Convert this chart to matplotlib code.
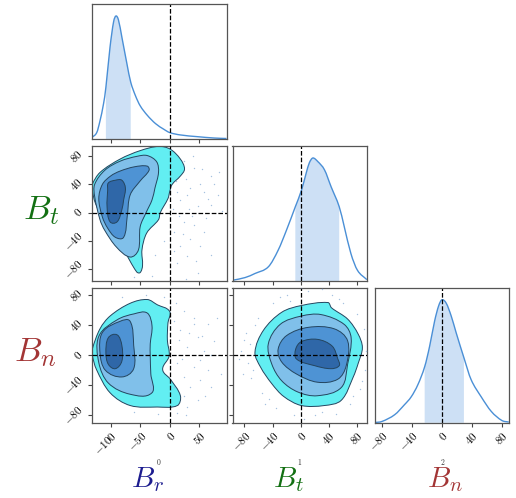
import matplotlib
matplotlib.use("Agg")
import matplotlib.pyplot as plt
import numpy as np
from matplotlib.path import Path
from matplotlib.patches import PathPatch

plt.rcParams["mathtext.fontset"] = "cm"
plt.rcParams["font.family"] = "serif"

# variable names / ranges
NAMES = ["$B_r$", "$B_t$", "$B_n$"]
NAME_COLORS = ["#1c1c8f", "#137013", "#a33535"]
LIMITS = [(-132, 96), (-97, 95), (-90, 90)]
TICKS = [[-100, -50, 0, 50], [-80, -40, 0, 40, 80], [-80, -40, 0, 40, 80]]
TRUTHS = [0, 0, 0]

# 1D marginals (peak normalised to 1)
BR_X = [-132, -123.5, -118, -112, -108, -101, -95, -91, -86.7, -81, -72.4, -66,
        -58, -50, -38, -24, -10, 0, 18, 46.6, 75, 96]
BR_D = [0.011, 0.052, 0.147, 0.286, 0.42, 0.747, 0.952, 1.0, 0.967, 0.829, 0.611,
        0.462, 0.352, 0.27, 0.193, 0.125, 0.079, 0.052, 0.033, 0.019, 0.008, 0.004]
BT_X = [-97, -79, -65, -46, -32, -20, -7.5, 1.4, 8, 12.3, 17.4, 24.5, 34, 43.4,
        55, 62.2, 71.6, 81, 94.3]
BT_D = [0.006, 0.028, 0.061, 0.115, 0.25, 0.415, 0.604, 0.741, 0.878, 0.959, 1.0,
        0.971, 0.904, 0.767, 0.604, 0.441, 0.224, 0.087, 0.011]
BN_X = [-90, -80, -63, -50, -41, -32, -23, -16.4, -9.7, -4.4, 0, 5.8, 12.5, 19,
        29.4, 39, 52.5, 66, 80, 89.3]
BN_D = [0.002, 0.011, 0.066, 0.147, 0.211, 0.311, 0.456, 0.622, 0.828, 0.95, 1.0,
        0.972, 0.867, 0.733, 0.529, 0.351, 0.211, 0.092, 0.019, 0.006]
BANDS = [(-108, -66), (-7.5, 55), (-23, 29.4)]

# 2D contour outlines, outer -> inner (Br-Bt, Br-Bn, Bt-Bn)
RT_LEVELS = [
    [(-131, 40), (-118, 57), (-84, 76), (-50, 88), (-19, 94), (1, 90), (18, 76),
     (25, 62), (18, 52), (4, 40), (0, 30), (-3, 20), (-16, 0), (-19, -10),
     (-39, -29), (-47, -53), (-46, -75), (-50, -85), (-56, -84), (-78, -53),
     (-106, -20), (-126, 14), (-131, 32)],
    [(-127, 40), (-110, 60), (-84, 73), (-55, 80), (-38, 81), (-22, 72), (-19, 57),
     (-25, 35), (-30, 18), (-40, 0), (-50, -20), (-53, -53), (-67, -63),
     (-90, -49), (-110, -25), (-118, -10), (-127, 23)],
    [(-114, 40), (-100, 52), (-84, 59), (-60, 65), (-38, 66), (-35, 60), (-50, 45),
     (-67, 25), (-72, -6), (-78, -35), (-92, -35), (-105, -22), (-114, -6),
     (-120, 20)],
    [(-104, 42), (-92, 46), (-81, 46), (-75, 35), (-78, 18), (-81, 4), (-89, -13),
     (-101, -13), (-106, 8), (-105, 32)],
]
RN_LEVELS = [
    [(-131, 8), (-118, 35), (-101, 52), (-67, 69), (-38, 74), (-21, 67), (0, 58),
     (-3, 43), (-4, 20), (-1, -1), (-12, -19), (1, -32), (18, -54), (13, -67),
     (-21, -69), (-67, -67), (-101, -50), (-124, -19), (-131, 0)],
    [(-120, 25), (-89, 47), (-60, 55), (-38, 56), (-30, 39), (-33, 15), (-33, -1),
     (-32, -25), (-30, -50), (-67, -52), (-104, -37), (-120, -10)],
    [(-114, 30), (-84, 45), (-67, 45), (-61, 13), (-61, -18), (-81, -29),
     (-109, -20), (-118, 3)],
    [(-104, 23), (-89, 27), (-81, 13), (-81, -8), (-92, -18), (-104, -12),
     (-108, 3)],
]
TN_LEVELS = [
    [(-65, 4), (-53, 33), (-27, 57), (1, 66), (39, 70), (44, 63), (67, 48), (82, 28),
     (88, 10), (82, -11), (75, -29), (58, -60), (34, -67), (1, -67), (-24, -55),
     (-41, -38), (-57, -16)],
    [(-46, 15), (-29, 41), (1, 52), (29, 54), (62, 41), (72, 23), (67, -12),
     (58, -43), (24, -54), (-4, -49), (-27, -34), (-41, -12)],
    [(-32, 8), (-20, 26), (11, 37), (48, 35), (67, 19), (65, -14), (53, -32),
     (24, -36), (-6, -25), (-27, -9)],
    [(-7, 8), (1, 18), (24, 21), (45, 12), (53, -5), (55, -14), (43, -18),
     (20, -14), (-6, -5)],
]

# stray samples outside the contours
RT_PTS = [(24, 73), (41, 64), (69, 52), (83, 57), (52, 40), (30, 25), (18, 18),
          (47, 9), (69, 11), (24, -13), (41, -18), (58, -27), (35, -37), (18, -47),
          (52, -47), (30, -61), (13, -71), (47, -85), (7, -27), (35, 35), (10, 45),
          (58, 30), (89, 2), (81, 25), (27, -94), (62, -8), (5, 5), (-10, -40),
          (-25, -60), (-30, -90), (-60, -92), (40, 80), (70, -60), (15, -5),
          (28, 48), (55, 62), (12, 30), (38, -5), (22, -30), (45, -68), (8, -55),
          (65, 20), (75, 40), (33, 5)]
RN_PTS = [(24, 59), (41, 50), (64, 41), (18, 33), (47, 24), (75, 19), (30, 11),
          (58, 6), (13, -11), (41, -16), (64, -20), (86, -25), (24, -29), (52, -33),
          (35, -42), (69, -42), (24, -55), (47, -60), (30, -69), (13, -77), (41, 41),
          (7, 46), (52, -7), (-40, 80), (-80, 78), (-10, 78), (-20, -78), (-60, -76),
          (10, 70), (80, 50), (15, 20), (33, 30), (20, -5), (60, -55), (8, -42),
          (28, -80), (55, 25), (70, 0)]
TN_PTS = [(-80, 20), (-75, -10), (-70, -30), (-85, 5), (-60, 50), (-40, 70),
          (-20, 80), (10, 85), (30, 88), (60, 70), (80, 55), (90, 35), (92, -20),
          (85, -45), (70, -65), (50, -78), (20, -80), (-10, -80), (-35, -70),
          (-55, -50), (-65, 40), (0, 90), (45, 80), (-50, -65), (75, -55), (-88, -5),
          (-72, 15), (93, 5), (-30, 78), (5, -85), (-78, 30), (-68, -20), (-15, 72),
          (55, 75), (88, -35), (30, -75), (-45, -58), (-82, -25)]

FILL_COLORS = ["#62eef2", "#80c0ea", "#4e93d4", "#2f67a8"]
EDGE = "#24455f"
LINE = "#4a8fd6"
BAND = "#cde0f5"


def closed_spline(pts):
    """Smooth closed outline passing through every point."""
    v = np.asarray(pts, float)
    n = len(v)
    tang = []
    for i in range(n):
        t = v[(i + 1) % n] - v[i - 1]
        tang.append(t / np.hypot(*t))
    verts, codes = [v[0]], [Path.MOVETO]
    for i in range(n):
        p1, p2 = v[i], v[(i + 1) % n]
        L = np.hypot(*(p2 - p1)) / 3
        verts += [p1 + tang[i] * L, p2 - tang[(i + 1) % n] * L, p2]
        codes += [Path.CURVE4] * 3
    verts.append(v[0])
    codes.append(Path.CLOSEPOLY)
    return Path(verts, codes)


def curve_segments(x, d):
    """Cubic Hermite (Bezier form) pieces through the density points."""
    n = len(x)
    m = np.zeros(n)
    for i in range(n):
        a, b = max(i - 1, 0), min(i + 1, n - 1)
        m[i] = (d[b] - d[a]) / (x[b] - x[a])
    segs = []
    for i in range(n - 1):
        h = x[i + 1] - x[i]
        segs.append([(x[i] + h / 3, d[i] + m[i] * h / 3),
                     (x[i + 1] - h / 3, d[i + 1] - m[i + 1] * h / 3),
                     (x[i + 1], d[i + 1])])
    return segs


def draw_1d(ax, x, d, band, truth):
    x = np.asarray(x, float)
    d = np.asarray(d, float)
    segs = curve_segments(x, d)
    i0 = int(np.where(x == band[0])[0][0])
    i1 = int(np.where(x == band[1])[0][0])
    bv = [(x[i0], 0), (x[i0], d[i0])]
    bc = [Path.MOVETO, Path.LINETO]
    for s in segs[i0:i1]:
        bv += s
        bc += [Path.CURVE4] * 3
    bv += [(x[i1], 0), (x[i0], 0)]
    bc += [Path.LINETO, Path.CLOSEPOLY]
    ax.add_patch(PathPatch(Path(bv, bc), facecolor=BAND, lw=0))
    lv = [(x[0], d[0])]
    lc = [Path.MOVETO]
    for s in segs:
        lv += s
        lc += [Path.CURVE4] * 3
    ax.add_patch(PathPatch(Path(lv, lc), facecolor="none", edgecolor=LINE, lw=1.0))
    ax.axvline(truth, color="k", ls="--", lw=0.9)
    ax.set_ylim(0, 1.1)
    ax.set_yticks([])


def draw_2d(ax, levels, pts, tx, ty):
    for k, lev in enumerate(levels):
        ax.add_patch(PathPatch(closed_spline(lev), facecolor=FILL_COLORS[k],
                               edgecolor=EDGE, lw=0.7, zorder=2 + k))
    p = np.asarray(pts, float)
    ax.scatter(p[:, 0], p[:, 1], s=1.0, color="#9dbbdc", alpha=0.9, lw=0,
               marker="o", zorder=8)
    ax.axvline(tx, color="k", ls="--", lw=0.9, zorder=9)
    ax.axhline(ty, color="k", ls="--", lw=0.9, zorder=9)


fig = plt.figure(figsize=(5.16, 4.98), dpi=100)
lefts = [91.7, 232.5, 374.5]
tops = [3.7, 145.7, 287.5]
size_w, size_h = 134.8, 135.3
W, H = 516, 498

curves = [(BR_X, BR_D), (BT_X, BT_D), (BN_X, BN_D)]
pairs = {(1, 0): (RT_LEVELS, RT_PTS), (2, 0): (RN_LEVELS, RN_PTS),
         (2, 1): (TN_LEVELS, TN_PTS)}

for i in range(3):
    for j in range(i + 1):
        ax = fig.add_axes([lefts[j] / W, 1 - (tops[i] + size_h) / H,
                           size_w / W, size_h / H])
        if i == j:
            draw_1d(ax, *curves[i], BANDS[i], TRUTHS[i])
        else:
            draw_2d(ax, *pairs[(i, j)], TRUTHS[j], TRUTHS[i])
            ax.set_ylim(*LIMITS[i])
            ax.set_yticks(TICKS[i])
            if j == 0:
                ax.set_yticklabels([f"${t}$" for t in TICKS[i]], rotation=45,
                                   ha="right", va="center", fontsize=8)
            else:
                ax.set_yticklabels([])
        ax.set_xlim(*LIMITS[j])
        ax.set_xticks(TICKS[j])
        if i == 2:
            ax.set_xticklabels([f"${t}$" for t in TICKS[j]], rotation=45,
                               ha="right", va="top", fontsize=8,
                               rotation_mode="anchor")
        else:
            ax.set_xticklabels([])
        ax.tick_params(direction="out", length=3, width=0.8, color="#444444",
                       pad=2)
        for s in ax.spines.values():
            s.set_color("#555555")
            s.set_linewidth(0.9)

# axis labels
fig.text(147 / W, 1 - 480 / H, NAMES[0], color=NAME_COLORS[0], fontsize=21,
         ha="center", va="center")
fig.text(288 / W, 1 - 480 / H, NAMES[1], color=NAME_COLORS[1], fontsize=21,
         ha="center", va="center")
fig.text(445 / W, 1 - 480 / H, NAMES[2], color=NAME_COLORS[2], fontsize=21,
         ha="center", va="center")
fig.text(41 / W, 1 - 210 / H, NAMES[1], color=NAME_COLORS[1], fontsize=25,
         ha="center", va="center")
fig.text(35 / W, 1 - 352 / H, NAMES[2], color=NAME_COLORS[2], fontsize=25,
         ha="center", va="center")
for k, xp in enumerate([159, 300, 443]):
    fig.text(xp / W, 1 - 462 / H, f"${k}$", fontsize=5.5, color="#333333",
             ha="center", va="center")

fig.savefig("out.png", dpi=100)
